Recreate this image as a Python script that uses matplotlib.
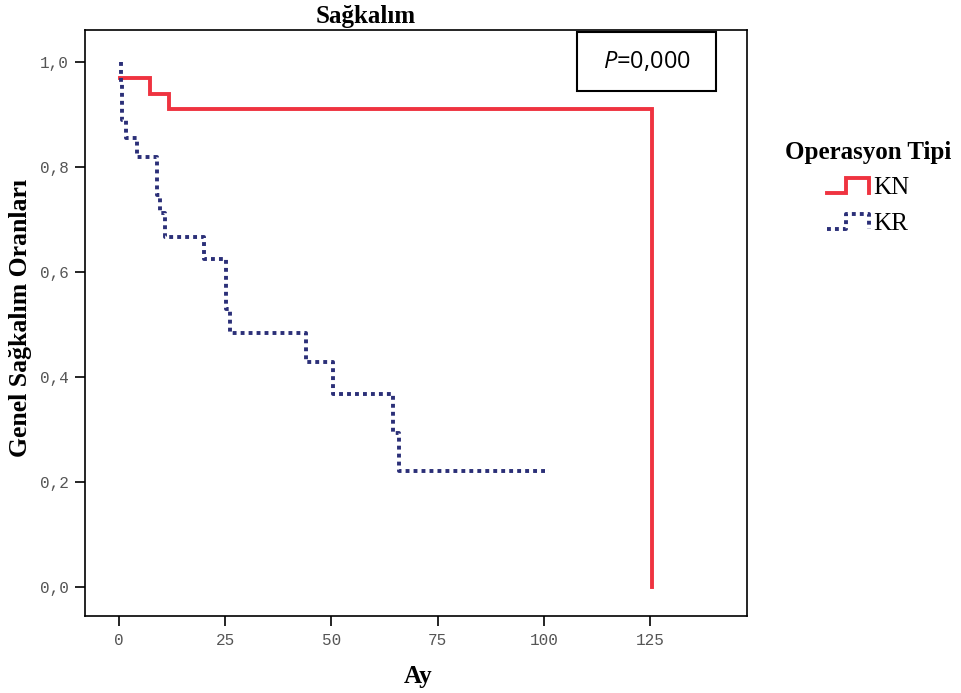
import matplotlib
matplotlib.use("Agg")
import matplotlib.pyplot as plt
from matplotlib.lines import Line2D
from matplotlib.patches import Rectangle
from matplotlib.legend_handler import HandlerBase

# ---- data ----
kn_time = [0.3, 7.3, 11.8, 125.5]
kn_surv = [0.97, 0.94, 0.91, 0.0]

kr_time = [0.4, 0.4, 0.8, 1.7, 4.2, 9.0, 9.6, 10.8, 19.9, 25.3, 26.2, 43.9, 50.4, 64.4, 65.8, 100.5]
kr_surv = [1.0, 0.96, 0.89, 0.855, 0.819, 0.747, 0.712, 0.667, 0.625, 0.53, 0.484, 0.429, 0.367, 0.293, 0.221, 0.221]

x_ticks = [0, 25, 50, 75, 100, 125]
x_ticklabels = ["0", "25", "50", "75", "100", "125"]
y_ticks = [0.0, 0.2, 0.4, 0.6, 0.8, 1.0]
y_ticklabels = ["0,0", "0,2", "0,4", "0,6", "0,8", "1,0"]

group_labels = ["KN", "KR"]
legend_title = "Operasyon Tipi"
title = "Sağkalım"
x_label = "Ay"
y_label = "Genel Sağkalım Oranları"
p_text = "$\\it{P}$=0,000"

RED = "#ef3340"
BLUE = "#2b2f78"

plt.rcParams["mathtext.fontset"] = "custom"
plt.rcParams["mathtext.rm"] = "Open Sans"
plt.rcParams["mathtext.it"] = "Open Sans:italic"

W, H = 961, 693
fig = plt.figure(figsize=(W / 100, H / 100), dpi=100)
ax_l, ax_r, ax_t, ax_b = 85, 747, 30, 616
ax = fig.add_axes([ax_l / W, 1 - ax_b / H, (ax_r - ax_l) / W, (ax_b - ax_t) / H])

kn_line, = ax.step(kn_time, kn_surv, where="post", color=RED, lw=2.8, solid_joinstyle="miter", zorder=3)
kr_line, = ax.step(kr_time, kr_surv, where="post", color=BLUE, lw=2.8,
                   linestyle=(0, (1, 1.05)), dash_capstyle="butt", zorder=4)

ax.set_xlim(-8.0, 147.8)
ax.set_ylim(-0.055, 1.061)
ax.set_xticks(x_ticks)
ax.set_xticklabels(x_ticklabels)
ax.set_yticks(y_ticks)
ax.set_yticklabels(y_ticklabels)
for sp in ax.spines.values():
    sp.set_linewidth(1.2)
ax.tick_params(axis="both", length=7.5, width=1.2, colors="black", labelcolor="#555555")
ax.tick_params(axis="y", pad=4)
ax.tick_params(axis="x", pad=5)
for lab in ax.get_xticklabels() + ax.get_yticklabels():
    lab.set_fontfamily("Liberation Mono")
    lab.set_fontsize(11.5)

# P box
ax.add_patch(Rectangle((0.743, 0.896), 0.210, 0.1006, transform=ax.transAxes,
                       fill=False, edgecolor="black", lw=1.5, zorder=5, clip_on=False))
ax.text(0.849, 0.946, p_text, transform=ax.transAxes, ha="center", va="center",
        fontsize=17, family="Open Sans", zorder=6)

serif_b = dict(family="Liberation Serif", weight="bold")
fig.text(366 / W, 1 - 16 / H, title, ha="center", va="center", fontsize=18, **serif_b)
fig.text(418 / W, 1 - 677 / H, x_label, ha="center", va="center", fontsize=18, **serif_b)
fig.text(21 / W, 1 - 318 / H, y_label, ha="center", va="center", rotation=90, fontsize=18.5, **serif_b)


class StepHandler(HandlerBase):
    def create_artists(self, legend, orig_handle, xdescent, ydescent, width, height, fontsize, trans):
        x0, y0 = -xdescent, -ydescent
        lo, hi = y0 + 0.0 * height, y0 + 0.95 * height
        xm = x0 + 0.45 * width
        xs = [x0, xm, xm, x0 + width, x0 + width]
        ys = [lo, lo, hi, hi, lo]
        ln = Line2D(xs, ys)
        ln.update_from(orig_handle)
        ln.set_data(xs, ys)
        ln.set_clip_on(False)
        ln.set_clip_box(None)
        ln.set_transform(trans)
        return [ln]


leg = fig.legend([kn_line, kr_line], group_labels, title=legend_title,
                 loc="upper center", bbox_to_anchor=(868 / W, 1 - 118 / H),
                 frameon=False, handlelength=1.7, handleheight=0.6, handletextpad=0.15,
                 labelspacing=0.55, prop=dict(family="Liberation Serif", size=18),
                 title_fontproperties=dict(family="Liberation Serif", weight="bold", size=18),
                 handler_map={Line2D: StepHandler()})

fig.savefig("out.png", dpi=100)
